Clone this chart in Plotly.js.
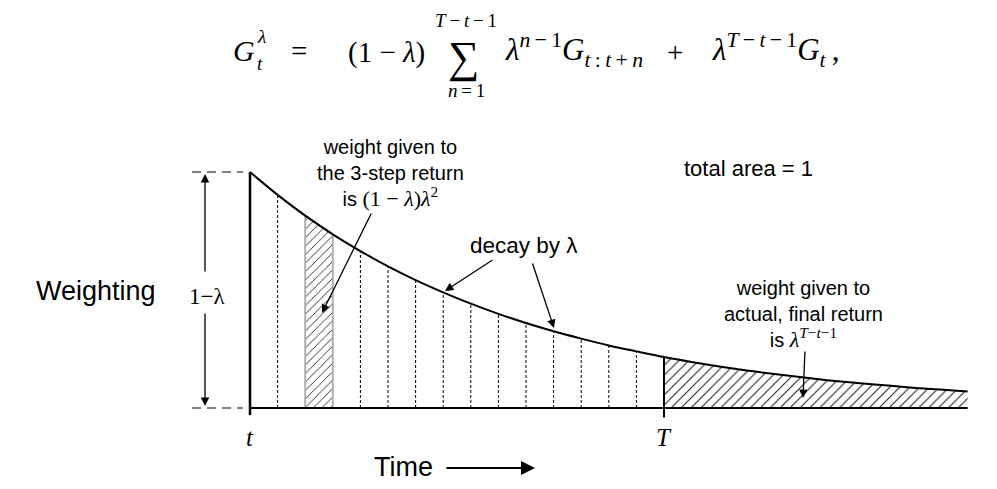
<!DOCTYPE html>
<html><head><meta charset="utf-8">
<script src="https://cdn.plot.ly/plotly-3.0.1.min.js"></script>
<style>html,body{margin:0;padding:0;background:#fff}#chart{width:997px;height:489px}</style>
</head><body><div id="chart"></div>
<script>
// Weight (relative to 1-λ) at each time step n after t
const steps = [0,1,2,3,4,5,6,7,8,9,10,11,12,13,14,15,16,17,18,19,20,21,22,23,24,25,26];
const weights = [1.000,0.903,0.815,0.736,0.665,0.600,0.542,0.490,0.442,0.399,0.360,0.325,0.294,0.265,0.240,0.216,0.195,0.176,0.159,0.144,0.130,0.117,0.106,0.096,0.086,0.078,0.070];
const threeStep = [2,3];      // interval of the 3-step return
const terminalStep = 15;      // T
const tickLabels = ['t','T'];
const tickSteps = [0,15];

const W=997,H=489;
const X0=250, PXU=27.6, Y0=408, PYU=236;
const xr=[-X0/PXU,(W-X0)/PXU], yr=[-(H-Y0)/PYU, Y0/PYU];
const P=(px,py)=>({x:px/W,y:1-py/H});

const traces=[];
// dashed verticals
let dx=[],dy=[];
for(let n=1;n<terminalStep;n++){ if(n===threeStep[0]||n===threeStep[1]) continue; dx.push(steps[n],steps[n],null); dy.push(0,weights[n],null);}
traces.push({x:dx,y:dy,mode:'lines',line:{color:'#000',width:1,dash:'3px,2px'},hoverinfo:'skip'});
// 3-step hatched strip
const a=threeStep[0], b=threeStep[1];
traces.push({x:[steps[a],steps[a],steps[b],steps[b],steps[a]],y:[0,weights[a],weights[b],0,0],mode:'lines',fill:'toself',
  fillcolor:'#fff',fillpattern:{shape:'/',fgcolor:'#222',bgcolor:'#fff',size:6,solidity:0.15},line:{color:'#aaa',width:1.8},hoverinfo:'skip'});
// terminal hatched region
const tx=steps.slice(terminalStep), ty=weights.slice(terminalStep);
traces.push({x:tx,y:ty,mode:'lines',fill:'tozeroy',fillcolor:'#fff',fillpattern:{shape:'/',fgcolor:'#222',bgcolor:'#fff',size:7,solidity:0.15},line:{color:'#000',width:0,shape:'spline'},hoverinfo:'skip'});
// curve
traces.push({x:steps,y:weights,mode:'lines',line:{color:'#000',width:2,shape:'spline'},hoverinfo:'skip'});
// baseline
traces.push({x:[0,steps[steps.length-1]],y:[0,0],mode:'lines',line:{color:'#000',width:2},hoverinfo:'skip'});
// vertical axis and T line
traces.push({x:[0,0],y:[weights[0],-0.03],mode:'lines',line:{color:'#000',width:2.5},hoverinfo:'skip'});
traces.push({x:[steps[terminalStep],steps[terminalStep]],y:[weights[terminalStep],-0.04],mode:'lines',line:{color:'#000',width:2},hoverinfo:'skip'});
// dashed guide lines at left
traces.push({x:[-58/PXU,-7/PXU,null,-58/PXU,-7/PXU],y:[1,1,null,0,0],mode:'lines',line:{color:'#000',width:1.2,dash:'9px,6px'},hoverinfo:'skip'});

const sans='Liberation Sans, Arial, sans-serif', serif='Liberation Serif, Times New Roman, serif';
const ann=[];
function T(px,py,text,size,fam,xa,extra){const p=P(px,py);ann.push(Object.assign({xref:'paper',yref:'paper',x:p.x,y:p.y,text:text,showarrow:false,xanchor:xa||'center',yanchor:'middle',font:{family:fam,size:size,color:'#000'}},extra||{}));}
function A(tx_,ty_,tailx,taily,w,s){const p=P(tx_,ty_);ann.push({xref:'paper',yref:'paper',x:p.x,y:p.y,text:'',showarrow:true,ax:tailx-tx_,ay:taily-ty_,arrowhead:2,arrowsize:s||1.3,arrowwidth:w||1.3,arrowcolor:'#000',standoff:0});}

// formula
const th='\u2009';
T(231,50,'<i>G</i>',30,serif,'left');
T(255,36,'<i>λ</i>',19,serif,'left');
T(255,63,'<i>t</i>',19,serif,'left');
T(289,51,'=',29,serif,'left');
T(346,52,'(1 − <i>λ</i>)',29,serif,'left');
T(463,57,'∑',44,serif,'center');
T(466,20,'<i>T</i>'+th+'−'+th+'<i>t</i>'+th+'−'+th+'1',19,serif,'center');
T(466,90,'<i>n</i>'+th+'='+th+'1',19,serif,'center');
T(503,50,'<i>λ</i><sup><i>n</i>'+th+'−'+th+'1</sup><i>G</i><sub><i>t</i>'+th+':'+th+'<i>t</i>'+th+'+'+th+'<i>n</i></sub>',31,serif,'left');
T(665,52,'+',29,serif,'left');
T(710,50,'<i>λ</i><sup><i>T</i>'+th+'−'+th+'<i>t</i>'+th+'−'+th+'1</sup><i>G</i><sub><i>t</i></sub>'+th+',',31,serif,'left');

// labels
T(390,173,"weight given to<br>the 3-step return<br>is <span style='font-family:Liberation Serif;font-size:22px'>(1 − <i>λ</i>)<i>λ</i><sup>2</sup></span>",20,sans,'center');
T(748,168,'total area = 1',22,sans,'center');
T(524,245,'decay by λ',22.5,sans,'center');
T(803,314,"weight given to<br>actual, final return<br>is <span style='font-family:Liberation Serif;font-size:22px'><i>λ</i><sup><i>T</i>−<i>t</i>−1</sup></span>",20,sans,'center');
T(34,291,'Weighting',27,sans,'left');
T(207,296,'1−λ',23,serif,'center');
T(372,467,'Time',27,sans,'left');
for(let i=0;i<tickLabels.length;i++){ T(X0+tickSteps[i]*PXU,437,'<i>'+tickLabels[i]+'</i>',25,serif,'center'); }

// arrows
A(322,313,372,212);
A(445,291,494,259);
A(554,328,532,262);
A(803,398,805,350);
A(535,468,445,468,2,1.4);
A(205,174,205,273);
A(205,406,205,312);

Plotly.newPlot('chart',traces,{width:W,height:H,margin:{l:0,r:0,t:0,b:0},paper_bgcolor:'#fff',plot_bgcolor:'#fff',showlegend:false,
  xaxis:{range:xr,visible:false,fixedrange:true},yaxis:{range:yr,visible:false,fixedrange:true},annotations:ann},{displayModeBar:false,staticPlot:true});
</script></body></html>
